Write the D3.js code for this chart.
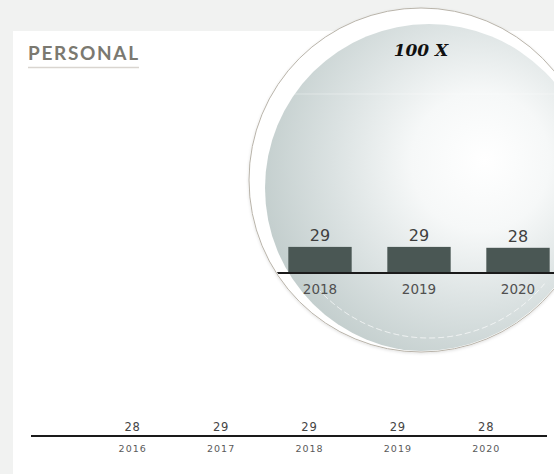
<!DOCTYPE html>
<html><head><meta charset="utf-8">
<script src="https://cdn.jsdelivr.net/npm/d3@7"></script>
<style>html,body{margin:0;padding:0;background:#f1f2f1;}svg{display:block;}</style>
</head><body>
<script>
const years = ["2016","2017","2018","2019","2020"];
const values = [28, 29, 29, 29, 28];
const title = "PERSONAL";
const zoomLabel = "100 X";
const magnification = 100;

const W = 554, H = 474;
const svg = d3.select("body").append("svg").attr("width", W).attr("height", H);
const defs = svg.append("defs");

// background + white panel
svg.append("rect").attr("width", W).attr("height", H).attr("fill", "#f1f2f1");
svg.append("rect").attr("x", 13).attr("y", 31).attr("width", W - 13).attr("height", H - 31).attr("fill", "#ffffff");

// title
svg.append("text").attr("x", 28).attr("y", 60).text(title)
  .attr("font-family", "Lato, 'Open Sans', sans-serif").attr("font-weight", 700)
  .attr("font-size", 19).attr("textLength", 110).attr("lengthAdjust", "spacing").attr("fill", "#7b7970");
svg.append("line").attr("x1", 28).attr("x2", 139).attr("y1", 67.5).attr("y2", 67.5)
  .attr("stroke", "#d9d5d0").attr("stroke-width", 1.3);

const numFont = "'DejaVu Sans', sans-serif";

// ---- main chart ----
const baseY = 436;
const x = d3.scaleBand().domain(years).range([88, 530]).paddingInner(0.36).paddingOuter(0.18);
const yMain = d3.scaleLinear().domain([0, 100 * magnification]).range([0, 90]);

const main = svg.append("g");
main.selectAll("rect.bar").data(values).join("rect")
  .attr("x", (d, i) => x(years[i])).attr("width", x.bandwidth())
  .attr("y", d => baseY - yMain(d)).attr("height", d => yMain(d)).attr("fill", "#4a5754");
main.append("line").attr("x1", 31).attr("x2", 547).attr("y1", baseY).attr("y2", baseY)
  .attr("stroke", "#1a1a1a").attr("stroke-width", 2.2);
main.selectAll("text.val").data(values).join("text")
  .attr("x", (d, i) => x(years[i]) + x.bandwidth() / 2 + 0.4).attr("y", baseY - 5)
  .attr("text-anchor", "middle").attr("font-family", numFont).attr("font-size", 11.5)
  .attr("letter-spacing", 0.8).attr("fill", "#444").text(d => d);
main.append("g").attr("transform", `translate(0,${baseY})`)
  .call(d3.axisBottom(x).tickSize(0).tickPadding(9))
  .call(g => g.select(".domain").remove())
  .call(g => g.selectAll("text").attr("font-family", numFont).attr("font-size", 9.5)
    .attr("letter-spacing", 1).attr("dx", 0.5).attr("fill", "#5a5a5a"));

// ---- magnifier ----
const oc = {x: 421, y: 180, r: 172};
const ic = {x: 429, y: 188, r: 164};

const filt = defs.append("filter").attr("id", "sh").attr("x", "-10%").attr("y", "-10%").attr("width", "120%").attr("height", "120%");
filt.append("feDropShadow").attr("dx", 0).attr("dy", 1).attr("stdDeviation", 1.5).attr("flood-color", "#000").attr("flood-opacity", 0.12);

const grad = defs.append("radialGradient").attr("id", "lens").attr("gradientUnits", "userSpaceOnUse")
  .attr("cx", 470).attr("cy", 165).attr("r", 230).attr("fx", 485).attr("fy", 160);
grad.append("stop").attr("offset", "0%").attr("stop-color", "#ffffff");
grad.append("stop").attr("offset", "30%").attr("stop-color", "#f6f8f8");
grad.append("stop").attr("offset", "62%").attr("stop-color", "#dbe2e2");
grad.append("stop").attr("offset", "100%").attr("stop-color", "#bdc9c8");

defs.append("clipPath").attr("id", "lensClip").append("circle")
  .attr("cx", oc.x).attr("cy", oc.y).attr("r", oc.r - 1);

svg.append("circle").attr("cx", oc.x).attr("cy", oc.y).attr("r", oc.r)
  .attr("fill", "#ffffff").attr("stroke", "#b9b4aa").attr("stroke-width", 1).attr("filter", "url(#sh)");
const lens = svg.append("g").attr("clip-path", "url(#lensClip)");
lens.append("circle").attr("cx", ic.x).attr("cy", ic.y).attr("r", ic.r).attr("fill", "url(#lens)");
// subtle reflection lines
lens.append("line").attr("x1", 270).attr("x2", 560).attr("y1", 94).attr("y2", 94)
  .attr("stroke", "#ffffff").attr("stroke-opacity", 0.35).attr("stroke-width", 1);
lens.append("path")
  .attr("d", d3.arc()({innerRadius: 150, outerRadius: 150, startAngle: Math.PI * 0.72, endAngle: Math.PI * 1.28}))
  .attr("transform", `translate(${ic.x},${ic.y})`)
  .attr("fill", "none").attr("stroke", "#ffffff").attr("stroke-opacity", 0.4).attr("stroke-dasharray", "6,3");

const zBase = 273;
const xz = d3.scaleBand().domain(years).range([72.5, 567.5]).paddingInner(0.36).paddingOuter(0.18);
const yZoom = d3.scaleLinear().domain([0, 100]).range([0, 90]);

lens.selectAll("rect.zbar").data(values).join("rect")
  .attr("x", (d, i) => xz(years[i])).attr("width", xz.bandwidth())
  .attr("y", d => zBase - yZoom(d)).attr("height", d => yZoom(d)).attr("fill", "#4a5754");
lens.append("line").attr("x1", 200).attr("x2", 600).attr("y1", zBase).attr("y2", zBase)
  .attr("stroke", "#1a1a1a").attr("stroke-width", 2);
lens.selectAll("text.zval").data(values).join("text")
  .attr("x", (d, i) => xz(years[i]) + xz.bandwidth() / 2)
  .attr("y", d => zBase - yZoom(d) - 6)
  .attr("text-anchor", "middle").attr("font-family", numFont).attr("font-size", 16)
  .attr("fill", "#3f3f3f").text(d => d);
lens.append("g").attr("transform", `translate(0,${zBase})`)
  .call(d3.axisBottom(xz).tickSize(0).tickPadding(11))
  .call(g => g.select(".domain").remove())
  .call(g => g.selectAll("text").attr("font-family", numFont).attr("font-size", 13.5).attr("fill", "#505050"));

svg.append("text").attr("x", 421).attr("y", 56).attr("text-anchor", "middle").text(zoomLabel)
  .attr("font-family", "'DejaVu Serif', serif").attr("font-weight", 700).attr("font-style", "italic")
  .attr("font-size", 17).attr("fill", "#111");
</script>
</body></html>
